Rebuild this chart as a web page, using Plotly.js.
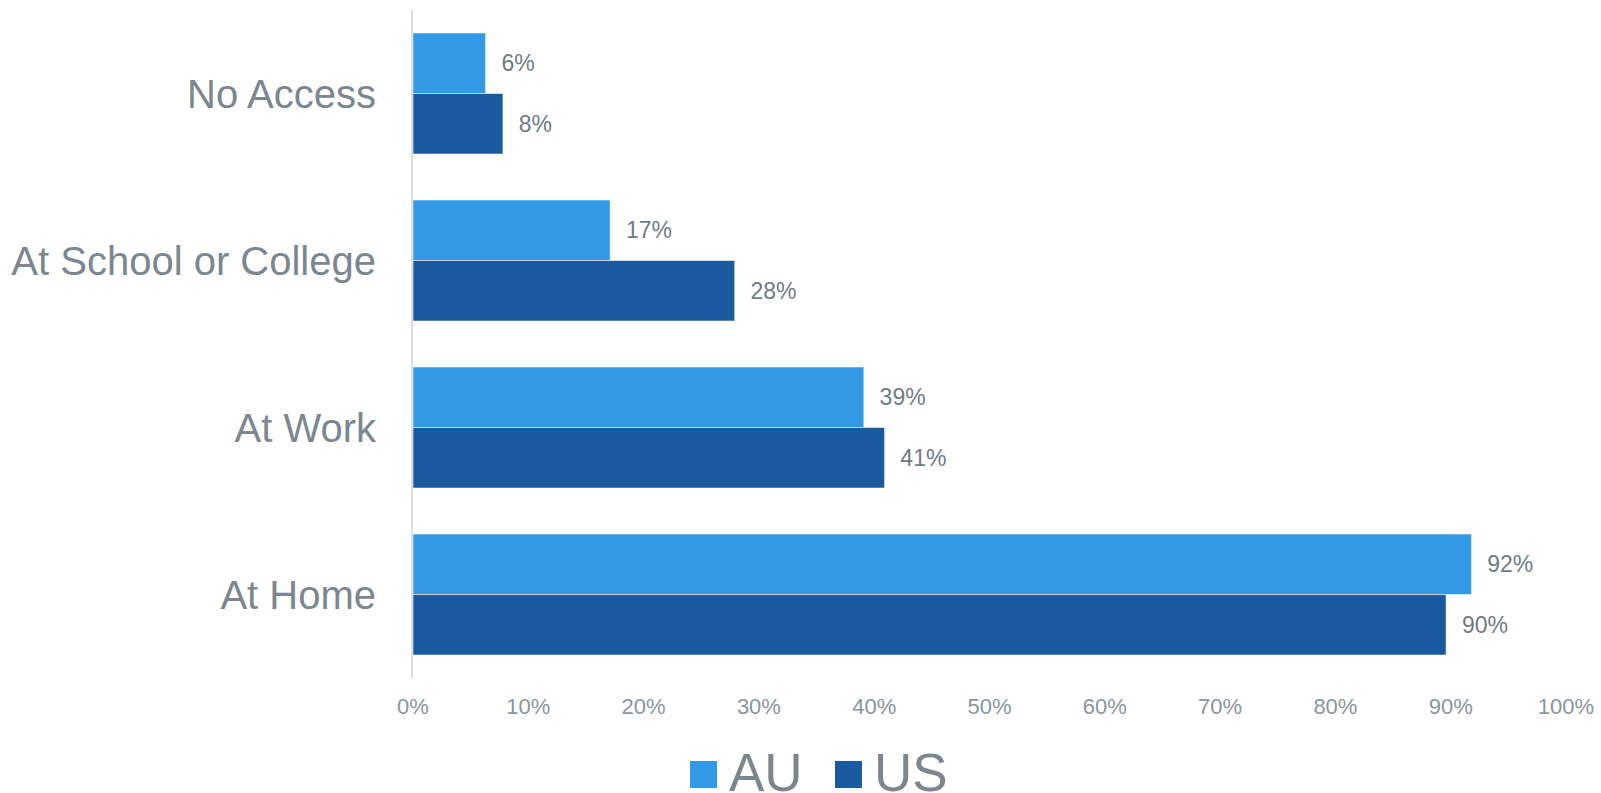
<!DOCTYPE html>
<html>
<head>
<meta charset="utf-8">
<script src="https://cdn.plot.ly/plotly-3.0.1.min.js"></script>
<style>html,body{margin:0;padding:0;background:#fff;}#chart{width:1601px;height:793px;}</style>
</head>
<body>
<div id="chart"></div>
<script>
const categories = ['No Access', 'At School or College', 'At Work', 'At Home'];
const auValues = [6.3, 17.1, 39.1, 91.8];
const usValues = [7.8, 27.9, 40.9, 89.6];
const seriesNames = ['AU', 'US'];
const seriesColors = ['#3399E7', '#1A5A9E'];
const tickValues = [0, 10, 20, 30, 40, 50, 60, 70, 80, 90, 100];

const W = 1601, H = 793;
const M = {l: 413, r: 35, t: 10, b: 115};
const PW = W - M.l - M.r, PH = H - M.t - M.b;
const px = x => (x - M.l) / PW;          // pixel -> paper x
const py = y => (H - M.b - y) / PH;      // pixel -> paper y

const labelFont = {family: 'Liberation Sans, Arial, sans-serif', size: 23, color: '#6f7b85'};
const pad = '\u00a0\u00a0';

const traces = [auValues, usValues].map((vals, i) => ({
  type: 'bar', orientation: 'h', name: seriesNames[i], y: categories, x: vals,
  marker: {color: seriesColors[i], line: {color: 'rgba(255,255,255,0.55)', width: 1}},
  text: vals.map(v => pad + Math.round(v) + '%'), textposition: 'outside',
  textfont: labelFont, cliponaxis: false, hoverinfo: 'none', showlegend: false
}));

// Legend drawn as paper-positioned swatches and text
const legendItems = [
  {name: seriesNames[0], color: seriesColors[0], sx0: 690, sx1: 717, tx: 728},
  {name: seriesNames[1], color: seriesColors[1], sx0: 835, sx1: 862, tx: 873}
];
const shapes = legendItems.map(it => ({
  type: 'rect', xref: 'paper', yref: 'paper',
  x0: px(it.sx0), x1: px(it.sx1), y0: py(788), y1: py(761),
  fillcolor: it.color, line: {width: 0}
}));
const annotations = legendItems.map(it => ({
  xref: 'paper', yref: 'paper', x: px(it.tx), y: py(772), xanchor: 'left', yanchor: 'middle',
  text: it.name, showarrow: false, borderpad: 0,
  font: {family: 'Liberation Sans, Arial, sans-serif', size: 53, color: '#7b8790'}
}));

const layout = {
  width: W, height: H,
  margin: M,
  paper_bgcolor: '#ffffff', plot_bgcolor: '#ffffff',
  barmode: 'group', bargap: 0.275, bargroupgap: 0,
  font: {family: 'Liberation Sans, Arial, sans-serif', color: '#7b8790'},
  xaxis: {range: [0, 100], tickvals: tickValues, ticktext: tickValues.map(v => v + '%'),
          showgrid: false, zeroline: false, showline: false, ticks: '',
          tickfont: {size: 22, color: '#8a959e'}, ticklabelstandoff: 13, fixedrange: true},
  yaxis: {categoryorder: 'array', categoryarray: categories, autorange: 'reversed',
          showgrid: false, zeroline: false, showline: true, linecolor: '#dedede', linewidth: 2,
          ticks: '', tickfont: {size: 40, color: '#7b8790'}, ticklabelstandoff: 27, automargin: false},
  showlegend: false,
  shapes: shapes,
  annotations: annotations
};

Plotly.newPlot('chart', traces, layout, {displayModeBar: false, staticPlot: true});
</script>
</body>
</html>
